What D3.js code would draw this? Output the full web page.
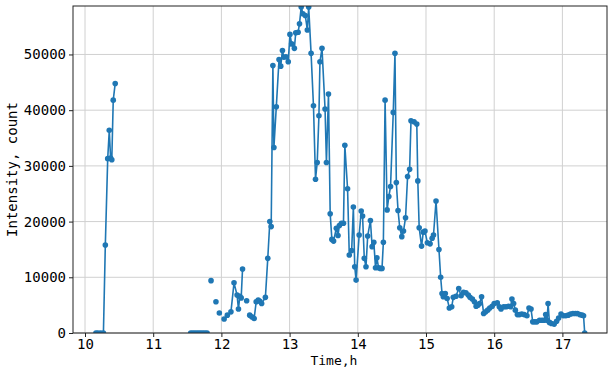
<!DOCTYPE html>
<html>
<head>
<meta charset="utf-8">
<script src="https://cdn.jsdelivr.net/npm/d3@7"></script>
<style>
  body { margin: 0; background: #fff; }
  text { font-family: 'DejaVu Sans Mono', monospace; fill: #000; }
</style>
</head>
<body>
<figure id="chart" style="margin:0"></figure>
<script>
// time in hours, null = gap in the recording
const times = [
  10.16, 10.19, 10.23, 10.27, 10.298, 10.333, 10.356, 10.375, 10.393, 10.414, 10.443, 10.5,
  11.55, 11.58, 11.61, 11.64, 11.67, 11.70, 11.73, 11.76, 11.79, 11.82,
  11.848, 11.88, 11.92, 11.945, 11.97, 12.0,
  12.04, 12.087, 12.14, 12.185, 12.23, 12.25, 12.27, 12.29, 12.31, 12.34, 12.37, 12.39,
  12.415, 12.445, 12.48, 12.51, 12.54, 12.565, 12.59, 12.645, 12.68, 12.71, 12.73,
  12.755, 12.77, 12.805, 12.845, 12.87, 12.895, 12.915, 12.945, 12.98, 13.005, 13.03,
  13.07, 13.09, 13.125, 13.145, 13.17, 13.195, 13.23, 13.26, 13.28, 13.315, 13.35,
  13.38, 13.405, 13.43, 13.445, 13.475, 13.52, 13.54, 13.57, 13.595, 13.62, 13.645,
  13.685, 13.71, 13.73, 13.76, 13.79, 13.81, 13.85, 13.875, 13.91, 13.935, 13.955,
  13.975, 14.02, 14.05, 14.07, 14.095, 14.12, 14.145, 14.185, 14.21, 14.235, 14.26,
  14.28, 14.305, 14.33, 14.355, 14.375, 14.4, 14.43, 14.455, 14.48, 14.52, 14.545,
  14.565, 14.59, 14.615, 14.645, 14.67, 14.7, 14.73, 14.76, 14.78, 14.825, 14.865,
  14.88, 14.9, 14.935, 14.96, 14.985, 15.02, 15.06, 15.09, 15.11, 15.147, 15.19,
  15.215, 15.235, 15.254, 15.283, 15.31, 15.342, 15.377, 15.40, 15.44, 15.48, 15.515,
  15.55, 15.585, 15.62, 15.645, 15.68, 15.71, 15.735, 15.76, 15.785, 15.815, 15.845,
  15.875, 15.905, 15.935, 15.97, 16.0, 16.045, 16.075, 16.1, 16.14, 16.175, 16.21,
  16.24, 16.26, 16.285, 16.31, 16.34, 16.37, 16.405, 16.44, 16.48, 16.51, 16.54,
  16.565, 16.595, 16.625, 16.665, 16.7, 16.73, 16.755, 16.775, 16.79, 16.81, 16.84,
  16.88, 16.915, 16.945, 16.98, 17.015, 17.05, 17.085, 17.12, 17.155, 17.19, 17.22,
  17.255, 17.29, 17.31, 17.327
];

const intensity = [
  0, 0, 0, 0, 15800, 31300, 36400, 31400, 31100, 41800, 44800, null,
  0, 0, 0, 0, 0, 0, 0, 0, 0, null,
  9400, null, 5600, null, 3600, null,
  2500, 3200, 3800, 9000, 6800, 4300, 6600, 6300, 11500, null, 5800, null,
  3200, 2900, 2600, 5600, 5900, 5700, 5300, 6400, 13400, 20000, 19100,
  48000, 33300, 40600, 49100, 47900, 50700, 49500, 49600, 48700, 53600, 51900,
  51100, 53900, 54000, 55500, 58500, 57300, 57000, 54400, 58500, 50200, 40800,
  27600, 30600, 39000, 48700, 51100, 40200, 30600, 42900, 21400, 16800, 16500,
  18800, 17500, 19300, 19700, 19700, 33700, 25900, 14000, 14800, 22600, 11900,
  9500, 17600, 21900, 21000, 13400, 11900, 17400, 20200, 15500, 16300, 11700,
  13500, 11700, 11600, 11600, 16300, 41800, 22100, 24500, 26300, 39600, 50200,
  27000, 22000, 18900, 17300, 18300, 20700, 28100, 29400, 38100, 37900, 37500,
  27300, 18900, 15600, 18100, 18300, 16200, 16000, 17000, 17600, 23700, 15000,
  10000, 7100, 6500, 7100, 6200, 4500, 4700, 6400, 6600, 8000, 6700,
  7300, 7200, 6800, 6400, 6100, 5600, 4800, 5000, 5300, 6500, 3500,
  3800, 4100, 4500, 4800, 5300, 5400, 4700, 4300, 4700, 4700, 4800,
  4700, 6100, 5300, 4100, 3300, 3300, 3400, 3300, 3100, 4500, 4300,
  2000, 2000, 2000, 2300, 2300, 2300, 3300, 2300, 5300, 1900, 1700,
  1600, 2100, 2700, 3400, 3100, 3100, 3200, 3400, 3500, 3500, 3500,
  3300, 3200, 3100, 0
];

const xTicks = [10, 11, 12, 13, 14, 15, 16, 17];
const yTicks = [0, 10000, 20000, 30000, 40000, 50000];
const xLabel = 'Time,h';
const yLabel = 'Intensity, count';

const width = 614;
const height = 367;
const margin = { top: 6, right: 7, bottom: 34, left: 73 };
const plotW = width - margin.left - margin.right;
const plotH = height - margin.top - margin.bottom;
const color = '#1f77b4';

const data = times.map((t, i) => ({ t: t, v: intensity[i] }));

const svg = d3.select('figure#chart')
  .append('svg')
  .attr('width', width)
  .attr('height', height);

const g = svg.append('g')
  .attr('transform', 'translate(' + margin.left + ',' + margin.top + ')');

const x = d3.scaleLinear().domain([9.824, 17.654]).range([0, plotW]);
const y = d3.scaleLinear().domain([0, 58700]).range([plotH, 0]);

// grid
g.append('g')
  .selectAll('line')
  .data(xTicks)
  .enter()
  .append('line')
  .attr('x1', d => x(d)).attr('x2', d => x(d))
  .attr('y1', 0).attr('y2', plotH)
  .attr('stroke', '#d0d0d0')
  .attr('stroke-width', 1);

g.append('g')
  .selectAll('line')
  .data(yTicks)
  .enter()
  .append('line')
  .attr('x1', 0).attr('x2', plotW)
  .attr('y1', d => y(d)).attr('y2', d => y(d))
  .attr('stroke', '#d0d0d0')
  .attr('stroke-width', 1);

svg.append('clipPath').attr('id', 'clip')
  .append('rect')
  .attr('width', plotW).attr('height', plotH);

const plot = g.append('g').attr('clip-path', 'url(#clip)');

const line = d3.line()
  .defined(d => d.v !== null)
  .x(d => x(d.t))
  .y(d => y(d.v));

plot.append('path')
  .datum(data)
  .attr('d', line)
  .attr('fill', 'none')
  .attr('stroke', color)
  .attr('stroke-width', 1.6)
  .attr('stroke-linejoin', 'round');

plot.selectAll('circle')
  .data(data.filter(d => d.v !== null))
  .enter()
  .append('circle')
  .attr('cx', d => x(d.t))
  .attr('cy', d => y(d.v))
  .attr('r', 2.8)
  .attr('fill', color);

// axes
const xAxis = g.append('g')
  .attr('transform', 'translate(0,' + plotH + ')')
  .call(d3.axisBottom(x).tickValues(xTicks).tickSize(4).tickPadding(2).tickFormat(d3.format('d')));

const yAxis = g.append('g')
  .call(d3.axisLeft(y).tickValues(yTicks).tickSize(4).tickPadding(3).tickFormat(d3.format('d')));

[xAxis, yAxis].forEach(a => {
  a.select('.domain').remove();
  a.selectAll('line').attr('stroke', '#222');
  a.selectAll('text')
    .style('font-family', "'DejaVu Sans Mono', monospace")
    .style('font-size', '14px')
    .attr('fill', '#000');
});

// frame
g.append('rect')
  .attr('width', plotW).attr('height', plotH)
  .attr('fill', 'none')
  .attr('stroke', '#222')
  .attr('stroke-width', 1);

svg.append('text')
  .attr('x', margin.left + x(13.65))
  .attr('y', 365)
  .attr('text-anchor', 'middle')
  .style('font-size', '13px')
  .text(xLabel);

svg.append('text')
  .attr('transform', 'translate(17,' + (margin.top + plotH / 2) + ') rotate(-90)')
  .attr('text-anchor', 'middle')
  .style('font-size', '14px')
  .text(yLabel);
</script>
</body>
</html>
